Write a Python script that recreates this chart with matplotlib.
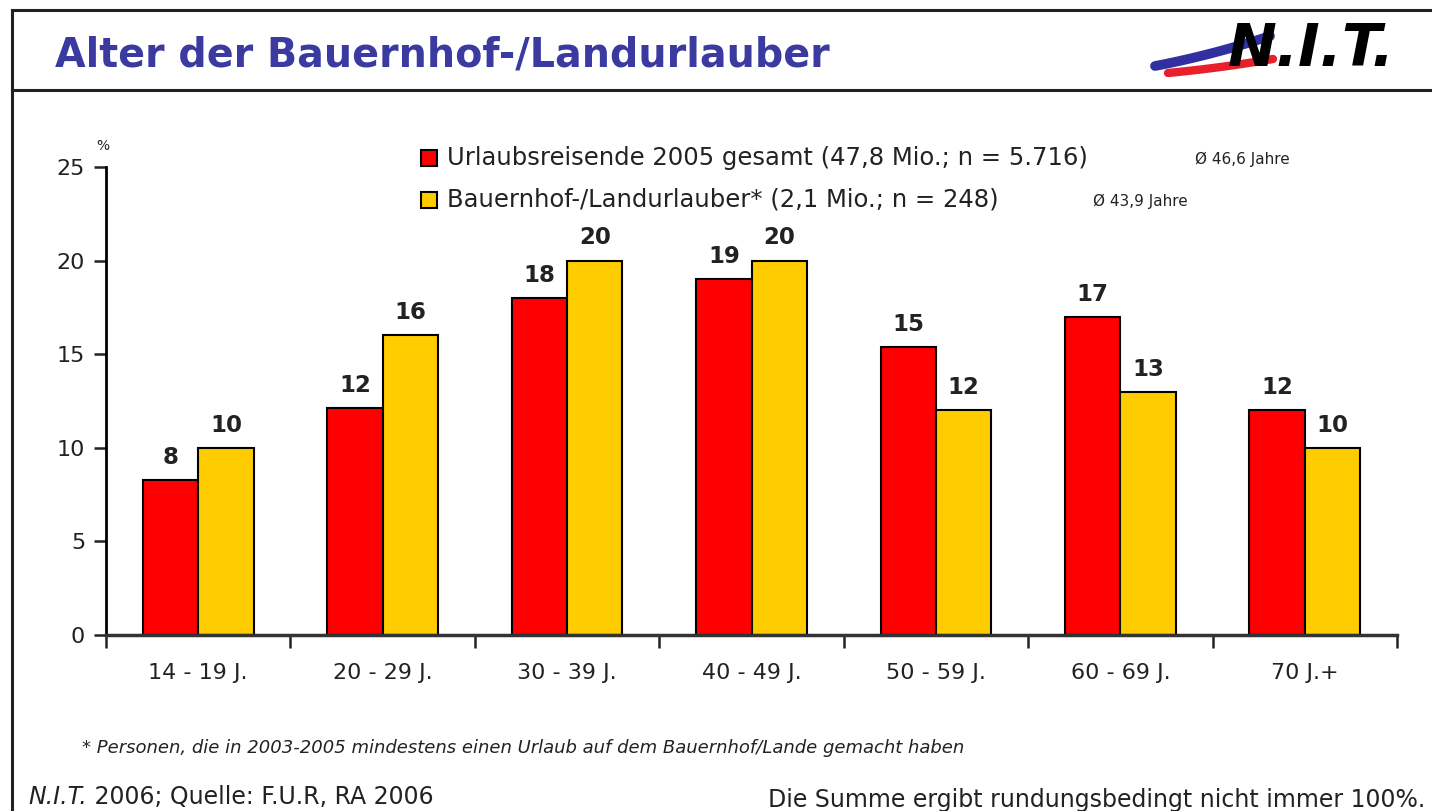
import matplotlib.pyplot as plt
from matplotlib.patches import Rectangle
from matplotlib.lines import Line2D
import numpy as np

# data
categories = ['14 - 19 J.', '20 - 29 J.', '30 - 39 J.', '40 - 49 J.',
              '50 - 59 J.', '60 - 69 J.', '70 J.+']
gesamt = [8.3, 12.1, 18.0, 19.0, 15.4, 17.0, 12.0]
bauernhof = [10.0, 16.0, 20.0, 20.0, 12.0, 13.0, 10.0]
yticks = [0, 5, 10, 15, 20, 25]

RED = '#ff0000'
YELLOW = '#ffcc00'
TITLE_BLUE = '#3a3aa0'
INK = '#222222'

W, H = 1432, 811
fig = plt.figure(figsize=(W / 100, H / 100), dpi=100)


def fx(px):
    return px / W


def fy(py):
    return 1 - py / H


# frame lines around the slide
for y0 in (10, 90):
    fig.add_artist(Line2D([fx(12), 1], [fy(y0), fy(y0)], color=INK, lw=2.2))
fig.add_artist(Line2D([fx(12), fx(12)], [fy(10), 0], color=INK, lw=2.2))

# title
fig.text(fx(55), fy(55), 'Alter der Bauernhof-/Landurlauber', fontsize=28.5,
         fontweight='bold', color=TITLE_BLUE, va='center', ha='left')

# logo: swoosh + letters
t = np.linspace(0, 1, 30)
fig.add_artist(Line2D(fx(1155 + 115 * t), fy(66 - 30 * t + 8 * t * (1 - t)),
                      color='#3030a0', lw=7, solid_capstyle='round'))
fig.add_artist(Line2D(fx(1168 + 105 * t), fy(73 - 14 * t + 4 * t * (1 - t)),
                      color='#e8202a', lw=6, solid_capstyle='round'))
fig.text(fx(1228), fy(50), 'N.I.T.', fontsize=42, fontweight='heavy',
         fontstyle='italic', color='black', va='center', ha='left')

# chart
ax = fig.add_axes([fx(106), fy(635), fx(1397) - fx(106), fy(167) - fy(635)])
x = np.arange(len(categories))
bw = 0.3
bars1 = ax.bar(x - bw / 2, gesamt, bw, color=RED, edgecolor='black', lw=1.5)
bars2 = ax.bar(x + bw / 2, bauernhof, bw, color=YELLOW, edgecolor='black', lw=1.5)

for bars in (bars1, bars2):
    for b in bars:
        ax.annotate(f'{b.get_height():.0f}', (b.get_x() + b.get_width() / 2, b.get_height()),
                    xytext=(0, 8), textcoords='offset points', ha='center', va='bottom',
                    fontsize=16.5, fontweight='bold', color=INK)

ax.set_ylim(0, 25)
ax.set_xlim(-0.5, len(categories) - 0.5)
ax.set_yticks(yticks)
ax.tick_params(axis='y', labelsize=16, length=9, width=1.8, pad=6, colors=INK)
ax.set_xticks(x)
ax.set_xticklabels(categories)
ax.tick_params(axis='x', which='major', length=0, labelsize=16, pad=20, colors=INK)
ax.set_xticks(np.arange(len(categories) + 1) - 0.5, minor=True)
ax.tick_params(axis='x', which='minor', length=9, width=1.8, direction='out', colors=INK)

for s in ('top', 'right'):
    ax.spines[s].set_visible(False)
ax.spines['left'].set_linewidth(2)
ax.spines['bottom'].set_linewidth(2.5)
ax.spines['bottom'].set_color('#333333')

fig.text(fx(103), fy(146), '%', fontsize=10, ha='center', va='center', color=INK)

# legend (built by hand to keep the small average-age notes)
legend_rows = [
    (RED, 'Urlaubsreisende 2005 gesamt (47,8 Mio.; n = 5.716)', 'Ø 46,6 Jahre', 158, 1195),
    (YELLOW, 'Bauernhof-/Landurlauber* (2,1 Mio.; n = 248)', 'Ø 43,9 Jahre', 200, 1093),
]
for col, label, note, ypx, notex in legend_rows:
    fig.add_artist(Rectangle((fx(421), fy(ypx + 8)), fx(16), 16 / H, facecolor=col,
                             edgecolor='black', lw=1.5))
    fig.text(fx(447), fy(ypx), label, fontsize=17.5, va='center', ha='left', color=INK)
    fig.text(fx(notex), fy(ypx + 1), note, fontsize=11, va='center', ha='left', color=INK)

# footnotes
fig.text(fx(82), fy(748), '* Personen, die in 2003-2005 mindestens einen Urlaub auf dem Bauernhof/Lande gemacht haben',
         fontsize=13, fontstyle='italic', va='center', ha='left', color=INK)
nit = fig.text(fx(28), fy(797), 'N.I.T.', fontsize=17, fontstyle='italic', va='center', ha='left', color=INK)
fig.canvas.draw()
nit_end = nit.get_window_extent().x1 / W
fig.text(nit_end, fy(797), ' 2006; Quelle: F.U.R, RA 2006', fontsize=17, va='center', ha='left', color=INK)
fig.text(fx(1425), fy(800), 'Die Summe ergibt rundungsbedingt nicht immer 100%.', fontsize=17,
         va='center', ha='right', color=INK)

fig.savefig('out.png', dpi=100)
